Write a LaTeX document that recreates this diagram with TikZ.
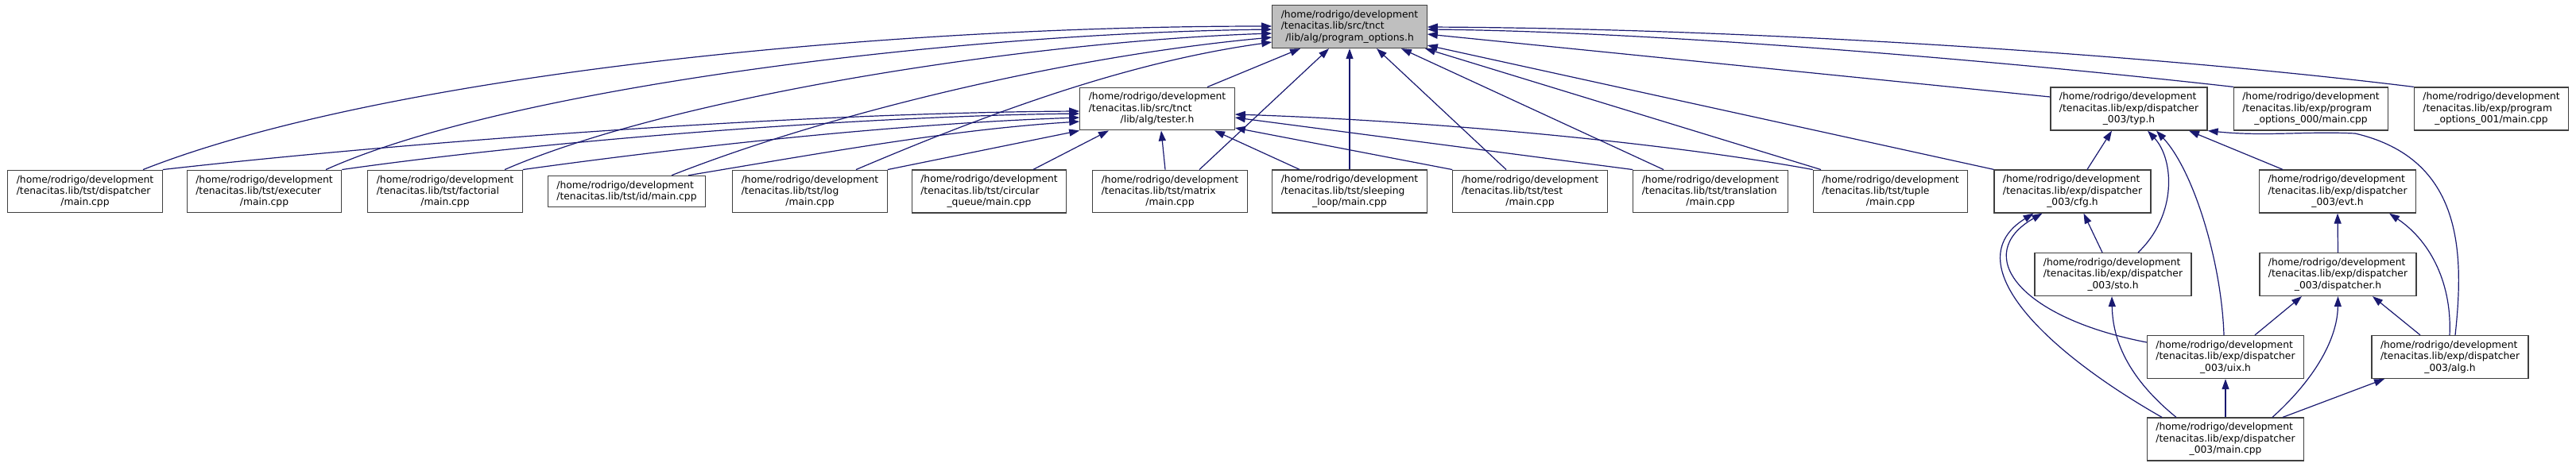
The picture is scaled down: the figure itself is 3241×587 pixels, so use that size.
\documentclass[tikz,border=0pt]{standalone}
\usepackage{fontspec}
\setmainfont{DejaVu Sans}
\usepackage{xcolor}
\definecolor{EdgeBlue}{HTML}{191970}
\definecolor{RootGrey}{HTML}{BFBFBF}
\definecolor{BoxLine}{HTML}{404040}
\usepackage{tikz}
\usetikzlibrary{arrows.meta}

\begin{document}
\begin{tikzpicture}[x=1pt, y=-1pt, >={Triangle[length=13pt,width=9pt]},
  every node/.style={font=\fontsize{12.3}{14.4}\selectfont, align=left, inner xsep=11pt, inner ysep=6.5pt},
  file/.style={draw=BoxLine, line width=1.2pt, fill=white},
  inc/.style={->, draw=EdgeBlue, line width=1.2pt}]
  \useasboundingbox (0,0) rectangle (3241,587);
  % included file
  \node[file, fill=RootGrey] (po) at (1698,33.5) {/home/rodrigo/development\\/tenacitas.lib/src/tnct\\\hfil/lib/alg/program\_options.h};
  % second row
  \node[file] (tester) at (1456,137) {/home/rodrigo/development\\/tenacitas.lib/src/tnct\\\hfil/lib/alg/tester.h};
  \node[file] (typ) at (2678.5,137) {/home/rodrigo/development\\/tenacitas.lib/exp/dispatcher\\\hfil\_003/typ.h};
  \node[file] (popt0) at (2907.5,137) {/home/rodrigo/development\\/tenacitas.lib/exp/program\\\hfil\_options\_000/main.cpp};
  \node[file] (popt1) at (3134.5,137) {/home/rodrigo/development\\/tenacitas.lib/exp/program\\\hfil\_options\_001/main.cpp};
  % third row
  \node[file] (disp) at (107,241) {/home/rodrigo/development\\/tenacitas.lib/tst/dispatcher\\\hfil/main.cpp};
  \node[file] (exec) at (332.5,241) {/home/rodrigo/development\\/tenacitas.lib/tst/executer\\\hfil/main.cpp};
  \node[file] (fact) at (560,241) {/home/rodrigo/development\\/tenacitas.lib/tst/factorial\\\hfil/main.cpp};
  \node[file] (idm) at (788.5,241) {/home/rodrigo/development\\\hfil/tenacitas.lib/tst/id/main.cpp};
  \node[file] (log) at (1019,241) {/home/rodrigo/development\\/tenacitas.lib/tst/log\\\hfil/main.cpp};
  \node[file] (circ) at (1244.5,241) {/home/rodrigo/development\\/tenacitas.lib/tst/circular\\\hfil\_queue/main.cpp};
  \node[file] (matrix) at (1472,241) {/home/rodrigo/development\\/tenacitas.lib/tst/matrix\\\hfil/main.cpp};
  \node[file] (sleep) at (1698,241) {/home/rodrigo/development\\/tenacitas.lib/tst/sleeping\\\hfil\_loop/main.cpp};
  \node[file] (test) at (1925,241) {/home/rodrigo/development\\/tenacitas.lib/tst/test\\\hfil/main.cpp};
  \node[file] (transl) at (2152,241) {/home/rodrigo/development\\/tenacitas.lib/tst/translation\\\hfil/main.cpp};
  \node[file] (tuple) at (2378.5,241) {/home/rodrigo/development\\/tenacitas.lib/tst/tuple\\\hfil/main.cpp};
  \node[file] (cfg) at (2607.5,241) {/home/rodrigo/development\\/tenacitas.lib/exp/dispatcher\\\hfil\_003/cfg.h};
  \node[file] (evt) at (2941,241) {/home/rodrigo/development\\/tenacitas.lib/exp/dispatcher\\\hfil\_003/evt.h};
  % lower rows
  \node[file] (sto) at (2658.5,345.5) {/home/rodrigo/development\\/tenacitas.lib/exp/dispatcher\\\hfil\_003/sto.h};
  \node[file] (dsp) at (2941.5,345.5) {/home/rodrigo/development\\/tenacitas.lib/exp/dispatcher\\\hfil\_003/dispatcher.h};
  \node[file] (uix) at (2800,449.5) {/home/rodrigo/development\\/tenacitas.lib/exp/dispatcher\\\hfil\_003/uix.h};
  \node[file] (alg) at (3082.5,449.5) {/home/rodrigo/development\\/tenacitas.lib/exp/dispatcher\\\hfil\_003/alg.h};
  \node[file] (mainx) at (2800,553) {/home/rodrigo/development\\/tenacitas.lib/exp/dispatcher\\\hfil\_003/main.cpp};
  % includes of program_options.h
  \draw[inc] ([xshift=73pt]disp.north) .. controls (480,95) and (1100,33) .. ([yshift=0.5pt]po.west);
  \draw[inc] ([xshift=77.5pt]exec.north) .. controls (640,110) and (1200,42) .. ([yshift=-3.5pt]po.west);
  \draw[inc] ([xshift=75pt]fact.north) .. controls (850,120) and (1300,52) .. ([yshift=-8.5pt]po.west);
  \draw[inc] ([xshift=56.5pt]idm.north) .. controls (1050,140) and (1350,70) .. ([yshift=-13.5pt]po.west);
  \draw[inc] ([xshift=58pt]log.north) .. controls (1250,140) and (1420,78) .. ([yshift=-19.5pt]po.west);
  \draw[inc] ([xshift=63pt]tester.north) -- ([xshift=-62pt]po.south);
  \draw[inc] ([xshift=37pt]matrix.north) -- ([xshift=-26pt]po.south);
  \draw[inc] (sleep.north) -- (po.south);
  \draw[inc] ([xshift=-30pt]test.north) -- ([xshift=34pt]po.south);
  \draw[inc] ([xshift=-59pt]transl.north) -- ([xshift=65pt]po.south);
  \draw[inc] ([xshift=-87.5pt]tuple.north) -- ([xshift=95pt]po.south);
  \draw[inc] (cfg.north west) -- ([yshift=-23.5pt]po.east);
  \draw[inc] ([yshift=15pt]typ.west) -- ([yshift=-9.5pt]po.east);
  \draw[inc] (popt0.north west) .. controls (2550,80) and (2100,40) .. ([yshift=-3.5pt]po.east);
  \draw[inc] (popt1.north west) .. controls (2700,68) and (2200,36) .. ([yshift=-0.5pt]po.east);
  % includes of tester.h
  \draw[inc] (disp.north east) .. controls (500,180) and (1000,142) .. ([yshift=-3pt]tester.west);
  \draw[inc] (exec.north east) .. controls (700,175) and (1100,146) .. ([yshift=-6pt]tester.west);
  \draw[inc] (fact.north east) .. controls (900,180) and (1150,155) .. ([yshift=-11pt]tester.west);
  \draw[inc] ([xshift=-22pt]idm.north east) .. controls (1050,190) and (1200,163) .. ([yshift=-16pt]tester.west);
  \draw[inc] (log.north east) -- (tester.south west);
  \draw[inc] ([xshift=55.5pt]circ.north) -- ([xshift=-61pt]tester.south);
  \draw[inc] ([xshift=-6pt]matrix.north) -- ([xshift=5pt]tester.south);
  \draw[inc] ([xshift=-63pt]sleep.north) -- ([xshift=72pt]tester.south);
  \draw[inc] (test.north west) -- ([yshift=-24pt]tester.east);
  \draw[inc] (transl.north west) -- ([yshift=-11pt]tester.east);
  \draw[inc] (tuple.north west) .. controls (2100,180) and (1800,152) .. ([yshift=-7pt]tester.east);
  % dispatcher_003
  \draw[inc] ([xshift=18.5pt]cfg.north) -- ([xshift=-21.5pt]typ.south);
  \draw[inc] ([xshift=31.5pt]sto.north) .. controls (2740,270) and (2735,200) .. ([xshift=23.5pt]typ.south);
  \draw[inc] ([xshift=-2pt]uix.north) .. controls (2795,330) and (2760,215) .. ([xshift=34.5pt]typ.south);
  \draw[inc] ([xshift=-69pt]evt.north) -- ([xshift=75.5pt]typ.south);
  \draw[inc] ([xshift=6.5pt]alg.north) .. controls (3100,320) and (3100,200) .. (2963,168) .. controls (2900,165) and (2850,172) .. (typ.south east);
  \draw[inc] ([xshift=-13.5pt]sto.north) -- ([xshift=14pt]cfg.south);
  \draw[inc] ([yshift=18.5pt]uix.west) .. controls (2540,400) and (2480,320) .. ([xshift=-38pt]cfg.south);
  \draw[inc] ([xshift=-80pt]mainx.north) .. controls (2570,440) and (2460,330) .. ([xshift=-49pt]cfg.south);
  \draw[inc] (dsp.north) -- (evt.south);
  \draw[inc] ([xshift=-0.5pt]alg.north) .. controls (3085,360) and (3060,305) .. ([xshift=65pt]evt.south);
  \draw[inc] ([xshift=-62pt]mainx.north) .. controls (2670,470) and (2658,420) .. ([xshift=-1.5pt]sto.south);
  \draw[inc] ([xshift=37pt]uix.north) -- ([xshift=-45.5pt]dsp.south);
  \draw[inc] ([xshift=59pt]mainx.north) .. controls (2920,470) and (2941,420) .. (dsp.south);
  \draw[inc] ([xshift=-37.5pt]alg.north) -- ([xshift=43.5pt]dsp.south);
  \draw[inc] (mainx.north) -- (uix.south);
  \draw[inc] ([xshift=72pt]mainx.north) -- ([xshift=-82.5pt]alg.south);
\end{tikzpicture}
\end{document}
